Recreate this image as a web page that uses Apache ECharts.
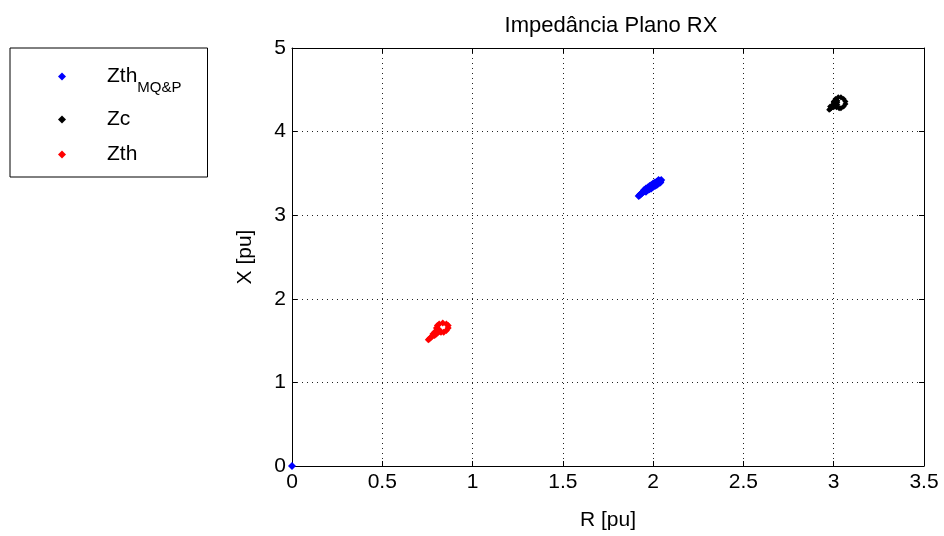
<!DOCTYPE html>
<html><head><meta charset="utf-8">
<script src="https://cdn.jsdelivr.net/npm/echarts@6/dist/echarts.min.js"></script>
<style>html,body{margin:0;padding:0;background:#fff}#c{width:944px;height:536px}</style>
</head><body><div id="c"></div>
<script>
var titleText = 'Impedância Plano RX';
var xName = 'R [pu]';
var yName = 'X [pu]';
var seriesNames = ['Zth_MQ&P', 'Zc', 'Zth'];
var seriesColors = ['#0000ff', '#000000', '#ff0000'];

// Zth MQ&P (blue) : origin point + cluster along a line
var zthMQP = [
  [0,0],
  [1.92,3.23],[1.925,3.24],[1.93,3.25],[1.935,3.26],[1.94,3.27],[1.945,3.28],[1.95,3.285],
  [1.955,3.29],[1.96,3.30],[1.965,3.31],[1.97,3.315],[1.975,3.32],[1.98,3.33],[1.985,3.335],
  [1.99,3.34],[1.995,3.35],[2.00,3.355],[2.005,3.36],[2.01,3.37],[2.015,3.375],[2.02,3.38],
  [2.025,3.39],[2.03,3.40],[2.035,3.405],[2.04,3.41],[2.045,3.42],
  [1.95,3.30],[1.96,3.32],[1.97,3.33],[1.98,3.35],[1.99,3.36],[2.00,3.38],[2.01,3.39],[2.02,3.40],[2.03,3.42],
  [1.96,3.28],[1.97,3.30],[1.98,3.31],[1.99,3.32],[2.00,3.34],[2.01,3.35],[2.02,3.36],[2.03,3.38],[2.04,3.39]
];
// Zc (black): blob + small loop
var zc = [
  [2.975,4.26],[2.98,4.27],[2.985,4.28],[2.99,4.29],[2.995,4.30],[3.00,4.31],[3.005,4.32],[3.01,4.33],
  [3.015,4.34],[3.02,4.35],[2.99,4.31],[3.00,4.33],[3.00,4.29],[3.01,4.31],[3.02,4.32],[2.98,4.30],
  [3.01,4.35],[3.00,4.35],[3.02,4.37],
  [3.00,4.36],[3.01,4.39],[3.025,4.41],[3.04,4.41],[3.055,4.39],[3.065,4.36],[3.065,4.33],
  [3.055,4.30],[3.04,4.28],[3.03,4.28],[3.015,4.29]
];
// Zth (red): blob + small loop
var zth = [
  [0.755,1.51],[0.76,1.52],[0.765,1.53],[0.77,1.54],[0.775,1.55],[0.78,1.56],[0.785,1.57],[0.79,1.58],
  [0.795,1.59],[0.80,1.60],[0.805,1.61],[0.81,1.62],[0.815,1.63],[0.78,1.58],[0.79,1.60],[0.80,1.62],
  [0.79,1.56],[0.80,1.58],[0.81,1.60],[0.82,1.61],
  [0.80,1.65],[0.805,1.68],[0.815,1.70],[0.835,1.71],[0.855,1.70],[0.865,1.68],[0.865,1.65],
  [0.855,1.62],[0.84,1.60],[0.825,1.60],[0.81,1.62]
];

var xTicks = {min:0, max:3.5, step:0.5};
var yTicks = {min:0, max:5, step:1};

var chart = echarts.init(document.getElementById('c'), null, {renderer:'canvas'});
var font = 'Liberation Sans, Arial, Helvetica, sans-serif';
var FS = 21;
var axisCommon = {
  axisLine:{show:true, onZero:false, lineStyle:{color:'#000', width:1}},
  axisTick:{show:true, inside:true, length:5, lineStyle:{color:'#000'}},
  splitLine:{show:true, lineStyle:{color:'#222', type:[1,4], width:1}},
  nameTextStyle:{color:'#000', fontSize:FS, fontFamily:font}
};
function mk(ax){ return Object.assign({}, axisCommon, ax); }

chart.setOption({
  animation:false,
  backgroundColor:'#fff',
  title:{text:titleText, left:606, textAlign:'center', top:10,
    textStyle:{color:'#000', fontSize:22, fontWeight:'normal', fontFamily:font}},
  grid:{left:292, right:20, top:48, bottom:70, show:false},
  legend:{
    orient:'vertical', left:10, top:48,
    data:seriesNames.map(function(n,i){return {name:n, icon:'diamond', itemStyle:{color:seriesColors[i]}};}),
    itemWidth:8, itemHeight:8, itemGap:14,
    borderColor:'#000', borderWidth:1, padding:[18,26,12,48],
    textStyle:{color:'#000', fontSize:FS, fontFamily:font, padding:[0,0,0,36],
      rich:{m:{fontSize:FS, fontFamily:font, color:'#000'}, s:{fontSize:15, fontFamily:font, color:'#000', verticalAlign:'bottom', padding:[22,0,0,0]}}},
    formatter:function(n){ if(n==='Zth_MQ&P') return '{m|Zth}{s|MQ&P}'; return '{m|'+n+'}'; },
    selectedMode:false
  },
  xAxis:[
    mk({type:'value', min:xTicks.min, max:xTicks.max, interval:xTicks.step, position:'bottom',
      name:xName, nameLocation:'middle', nameGap:44,
      axisLabel:{color:'#000', fontSize:FS, fontFamily:font, margin:6}}),
    mk({type:'value', min:xTicks.min, max:xTicks.max, interval:xTicks.step, position:'top',
      axisLabel:{show:false}, splitLine:{show:false}})
  ],
  yAxis:[
    mk({type:'value', min:yTicks.min, max:yTicks.max, interval:yTicks.step, position:'left',
      name:yName, nameLocation:'middle', nameGap:36,
      axisLabel:{color:'#000', fontSize:FS, fontFamily:font, margin:6}}),
    mk({type:'value', min:yTicks.min, max:yTicks.max, interval:yTicks.step, position:'right',
      axisLabel:{show:false}, splitLine:{show:false}})
  ],
  series:[
    {name:seriesNames[0], type:'scatter', data:zthMQP, symbol:'diamond', symbolSize:8, itemStyle:{color:seriesColors[0], opacity:1}},
    {name:seriesNames[1], type:'scatter', data:zc, symbol:'diamond', symbolSize:6, itemStyle:{color:seriesColors[1], opacity:1}},
    {name:seriesNames[2], type:'scatter', data:zth, symbol:'diamond', symbolSize:7, itemStyle:{color:seriesColors[2], opacity:1}}
  ]
});
</script></body></html>
